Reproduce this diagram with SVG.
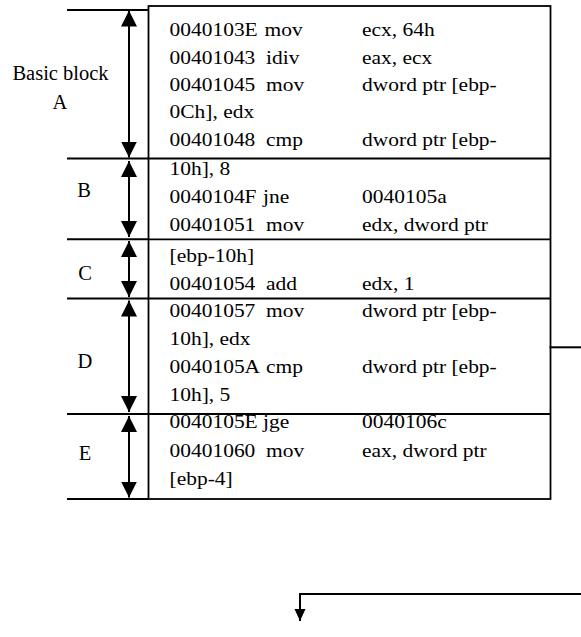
<svg xmlns="http://www.w3.org/2000/svg" width="581" height="637" viewBox="0 0 581 637">
  <style>
    .ln { stroke: #000; stroke-width: 2; fill: none; }
    .bx { stroke: #000; stroke-width: 1.8; fill: none; }
    .arr { stroke: #000; stroke-width: 2; fill: none; marker-start: url(#tri); marker-end: url(#tri); }
    .lbl { font-size: 20.5px; fill: #000; text-anchor: middle; }
    .code { font-size: 19px; fill: #000; }
  </style>
  <defs>
    <marker id="tri" markerUnits="userSpaceOnUse" markerWidth="16" markerHeight="16" viewBox="0 0 15 15" refX="15" refY="7.5" orient="auto-start-reverse">
      <path d="M0,0 L15,7.5 L0,15 Z" fill="#000"/>
    </marker>
    <marker id="tri2" markerUnits="userSpaceOnUse" markerWidth="12" markerHeight="12" viewBox="0 0 12 12" refX="12" refY="6" orient="auto">
      <path d="M0,0.5 L12,6 L0,11.5 Z" fill="#000"/>
    </marker>
  </defs>

  <rect width="581" height="637" fill="#fff"/>

  <!-- instruction listing box -->
  <g id="listing">
    <rect class="bx" x="148.5" y="6" width="402" height="493"/>
    <line class="bx" x1="148.5" y1="158.5" x2="550.5" y2="158.5"/>
    <line class="bx" x1="148.5" y1="239.3" x2="550.5" y2="239.3"/>
    <line class="bx" x1="148.5" y1="298.5" x2="550.5" y2="298.5"/>
    <line class="bx" x1="148.5" y1="414" x2="550.5" y2="414"/>
    <!-- code is set slightly wide: x values are divided by the 1.13 stretch -->
    <g class="code" font-family="Liberation Serif, DejaVu Serif, serif" transform="scale(1.13 1)">
      <text x="150" y="36.5">0040103E</text><text x="234.1" y="36.5">mov</text><text x="320.4" y="36.5">ecx, 64h</text>
      <text x="150" y="63.8">00401043</text><text x="235.4" y="63.8">idiv</text><text x="320.4" y="63.8">eax, ecx</text>
      <text x="150" y="91">00401045</text><text x="235.4" y="91">mov</text><text x="320.4" y="91">dword ptr [ebp-</text>
      <text x="150" y="118.5">0Ch], edx</text>
      <text x="150" y="146.5">00401048</text><text x="235.4" y="146.5">cmp</text><text x="320.4" y="146.5">dword ptr [ebp-</text>
      <text x="150" y="175">10h], 8</text>
      <text x="150" y="203">0040104F</text><text x="232.7" y="203">jne</text><text x="320.4" y="203">0040105a</text>
      <text x="150" y="231.5">00401051</text><text x="235.4" y="231.5">mov</text><text x="320.4" y="231.5">edx, dword ptr</text>
      <text x="150" y="262">[ebp-10h]</text>
      <text x="150" y="290.5">00401054</text><text x="235.4" y="290.5">add</text><text x="320.4" y="290.5">edx, 1</text>
      <text x="150" y="317.5">00401057</text><text x="235.4" y="317.5">mov</text><text x="320.4" y="317.5">dword ptr [ebp-</text>
      <text x="150" y="345">10h], edx</text>
      <text x="150" y="373">0040105A</text><text x="235.4" y="373">cmp</text><text x="320.4" y="373">dword ptr [ebp-</text>
      <text x="150" y="401">10h], 5</text>
      <text x="150" y="428.5">0040105E</text><text x="232.7" y="428.5">jge</text><text x="320.4" y="428.5">0040106c</text>
      <text x="150" y="457">00401060</text><text x="235.4" y="457">mov</text><text x="320.4" y="457">eax, dword ptr</text>
      <text x="150" y="485.5">[ebp-4]</text>
    </g>
  </g>

  <!-- block extents -->
  <g id="blocks" font-family="Liberation Serif, DejaVu Serif, serif">
    <g id="block-A">
      <line class="ln" x1="67" y1="10" x2="148.5" y2="10"/>
      <text class="lbl" x="60.5" y="80">Basic block</text>
      <text class="lbl" x="60" y="109">A</text>
    </g>
    <g id="block-B">
      <line class="ln" x1="67" y1="158.5" x2="148.5" y2="158.5"/>
      <text class="lbl" x="84" y="197">B</text>
    </g>
    <g id="block-C">
      <line class="ln" x1="67" y1="239.3" x2="148.5" y2="239.3"/>
      <text class="lbl" x="85" y="280">C</text>
    </g>
    <g id="block-D">
      <line class="ln" x1="67" y1="298.5" x2="148.5" y2="298.5"/>
      <text class="lbl" x="85" y="368">D</text>
    </g>
    <g id="block-E">
      <line class="ln" x1="67" y1="414" x2="148.5" y2="414"/>
      <line class="ln" x1="67" y1="499" x2="148.5" y2="499"/>
      <text class="lbl" x="85" y="460">E</text>
    </g>
  </g>

  <g id="connectors">
    <line class="arr" x1="129" y1="10.5" x2="129" y2="157.5"/>
    <line class="arr" x1="129" y1="161" x2="129" y2="237"/>
    <line class="arr" x1="129" y1="241" x2="129" y2="297"/>
    <line class="arr" x1="129" y1="300.5" x2="129" y2="412"/>
    <line class="arr" x1="129" y1="416" x2="129" y2="497.5"/>
    <line class="ln" x1="549.5" y1="347.3" x2="581" y2="347.3"/>
    <line class="ln" x1="581" y1="594" x2="299" y2="594"/>
    <line class="ln" x1="300" y1="593" x2="300" y2="621" marker-end="url(#tri2)"/>
  </g>
</svg>
